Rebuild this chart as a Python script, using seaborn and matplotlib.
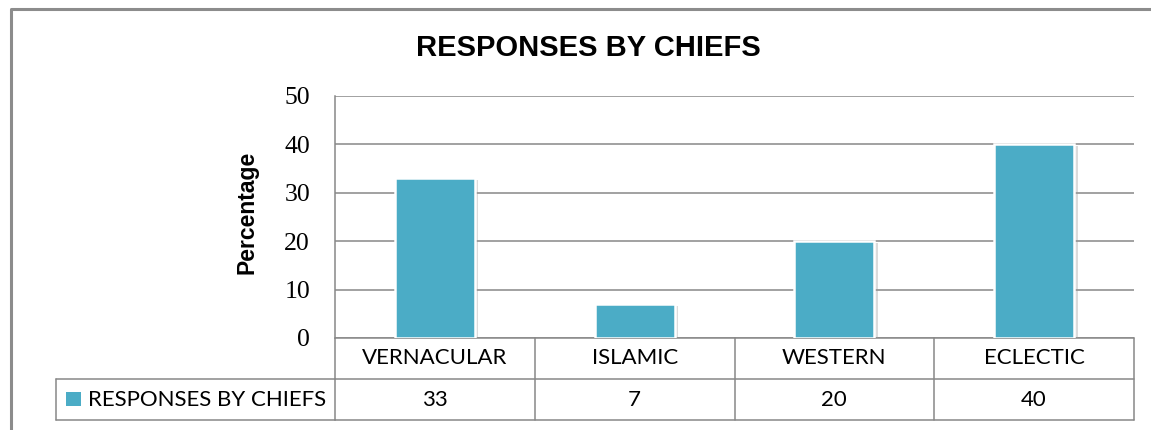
import matplotlib
matplotlib.use("Agg")
import matplotlib.pyplot as plt
import seaborn as sns
import pandas as pd
from matplotlib.transforms import blended_transform_factory
from matplotlib.patches import Rectangle
from matplotlib.lines import Line2D
import matplotlib.patheffects as pe

# ---- data ----
categories = ["VERNACULAR", "ISLAMIC", "WESTERN", "ECLECTIC"]
values = [33, 7, 20, 40]
series_name = "RESPONSES BY CHIEFS"
title_text = "RESPONSES BY CHIEFS"
y_label = "Percentage"
y_ticks = [0, 10, 20, 30, 40, 50]

BAR = "#4BACC6"
GRID = "#888888"
FRAME = "#8c8c8c"

sns.set_theme(style="white")
plt.rcParams["font.family"] = ["Liberation Sans", "DejaVu Sans"]

W, H = 1151, 430
fig = plt.figure(figsize=(W / 100, H / 100), dpi=100)
fig.patch.set_facecolor("white")


def fx(px):
    return px / W


def fy(py):
    return 1 - py / H


ax = fig.add_axes([fx(335), fy(338), fx(1134) - fx(335), fy(96) - fy(338)])
df = pd.DataFrame({"category": categories, "value": values})
sns.barplot(data=df, x="category", y="value", color=BAR, width=0.40,
            saturation=1, edgecolor="white", linewidth=1.8, ax=ax, zorder=3)
for p in ax.patches:
    p.set_path_effects([pe.SimplePatchShadow(offset=(2.5, -1), shadow_rgbFace="#9a9a9a", alpha=0.35),
                        pe.Normal()])

ax.set_xlim(-0.5, len(categories) - 0.5)
ax.set_ylim(0, 50)
ax.set_yticks(y_ticks)
ax.set_xticks([])
ax.set_xlabel("")
ax.set_ylabel("")
ax.yaxis.grid(True, color=GRID, lw=1.1)
ax.set_axisbelow(True)
for s in ["top", "right", "bottom"]:
    ax.spines[s].set_visible(False)
ax.spines["left"].set_color(GRID)
ax.spines["left"].set_linewidth(1.1)
ax.tick_params(axis="y", length=0, pad=18, labelsize=18.5, colors="black")
for lbl in ax.get_yticklabels():
    lbl.set_fontfamily(["Liberation Serif", "DejaVu Serif"])

# ---- data table ----
trans = blended_transform_factory(ax.transData, ax.transAxes)
row_h = 41 / 242
n = len(categories)
lw = 1.1
ax.add_line(Line2D([-0.5, n - 0.5], [-row_h, -row_h], transform=trans, color=GRID, lw=lw, clip_on=False))
ax.add_line(Line2D([-0.5, n - 0.5], [-2 * row_h, -2 * row_h], transform=trans, color=GRID, lw=lw, clip_on=False))
ax.add_line(Line2D([-0.5, n - 0.5], [0, 0], transform=trans, color=GRID, lw=lw, clip_on=False))
for k in range(n + 1):
    ax.add_line(Line2D([k - 0.5, k - 0.5], [0, -2 * row_h], transform=trans, color=GRID, lw=lw, clip_on=False))
fig.add_artist(Line2D([fx(56), fx(335)], [fy(379), fy(379)], transform=fig.transFigure, color=GRID, lw=lw))
fig.add_artist(Line2D([fx(56), fx(335)], [fy(420), fy(420)], transform=fig.transFigure, color=GRID, lw=lw))
fig.add_artist(Line2D([fx(56), fx(56)], [fy(379), fy(420)], transform=fig.transFigure, color=GRID, lw=lw))

tfont = ["Lato", "DejaVu Sans"]
for i, (c, v) in enumerate(zip(categories, values)):
    ax.text(i, -row_h / 2, c, transform=trans, ha="center", va="center", fontsize=16,
            family=tfont, color="black", clip_on=False)
    ax.text(i, -1.5 * row_h, str(v), transform=trans, ha="center", va="center", fontsize=16,
            family=tfont, color="black", clip_on=False)

fig.add_artist(Rectangle((fx(66), fy(406)), fx(81) - fx(66), fy(392) - fy(406),
                         transform=fig.transFigure, facecolor=BAR, edgecolor="none"))
fig.text(fx(88), fy(399.5), series_name, ha="left", va="center", fontsize=16, family=tfont, color="black")

# ---- titles ----
fig.text(fx(588), fy(48), title_text, ha="center", va="center", fontsize=21, fontweight="bold", color="black")
fig.text(fx(247), fy(212), y_label, ha="center", va="center", rotation=90, fontsize=16.5,
         fontweight="bold", color="black")

# ---- outer frame ----
fig.add_artist(Line2D([fx(11), fx(11), fx(1151)], [0, fy(9), fy(9)], transform=fig.transFigure,
                      color=FRAME, lw=2.2))

fig.savefig("out.png", dpi=100)
